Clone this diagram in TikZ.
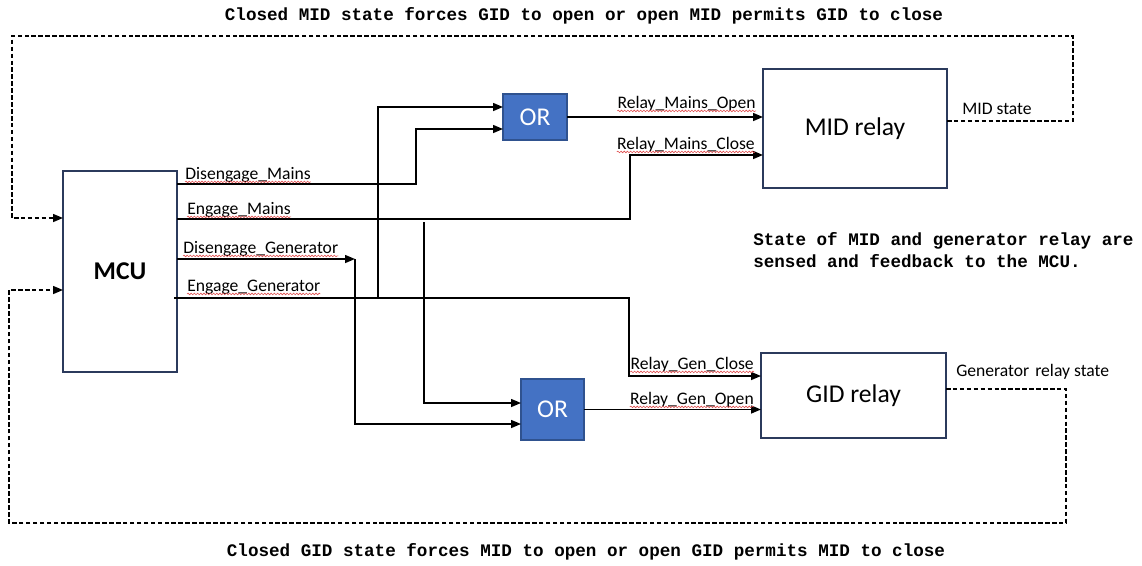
\documentclass[tikz,border=0pt]{standalone}
\usepackage{fontspec}
\setmainfont{Carlito}
\newfontfamily\monofont{Liberation Mono}
\usetikzlibrary{arrows.meta,decorations.pathmorphing}
\definecolor{boxline}{HTML}{2B3A5C}
\definecolor{orfill}{HTML}{4472C4}
\definecolor{orline}{HTML}{2F528F}
\definecolor{squig}{HTML}{E05050}
\tikzset{
  blockbox/.style={draw=boxline,line width=1.1pt,fill=white,inner sep=0pt,outer sep=0pt,font=\fontsize{19.2}{22}\selectfont},
  orgate/.style={draw=orline,line width=1.1pt,fill=orfill,text=white,inner sep=0pt,outer sep=0pt,font=\fontsize{19.2}{22}\selectfont},
  wire/.style={line width=1.1pt,black},
  arr/.style={wire,-{Triangle[length=7.5pt,width=6pt]}},
  fb/.style={arr,dash pattern=on 3.4pt off 1.8pt},
  lbl/.style={inner sep=0pt,font=\fontsize{13.2}{15}\selectfont},
  note/.style={inner sep=0pt,font=\monofont\bfseries\fontsize{13.2}{16.5}\selectfont},
  spell/.style={draw=squig,line width=0.45pt,decorate,decoration={snake,amplitude=0.6pt,segment length=2.4pt}}
}
\begin{document}
\begin{tikzpicture}[x=0.75pt,y=-0.75pt]
\useasboundingbox (0,0) rectangle (1142,565);

% blocks
\node[blockbox,minimum width=85.5pt,minimum height=150.75pt,font=\bfseries\fontsize{19.2}{22}\selectfont] (MCU) at (120,271.5) {MCU};
\node[blockbox,minimum width=138pt,minimum height=89.25pt] (MID) at (855,128.5) {MID relay};
\node[blockbox,minimum width=138.75pt,minimum height=63.75pt] (GID) at (853.5,395.5) {GID relay};
\node[orgate,minimum width=48pt,minimum height=34.5pt] (OR1) at (535,117) {OR};
\node[orgate,minimum width=47.25pt,minimum height=45.75pt] (OR2) at (552.5,409.5) {OR};

% MCU outputs
\draw[arr] (MCU.east |- 0,184) -- (416,184) -- (416,129) -- (OR1.west |- 0,129);
\draw[arr] (MCU.east |- 0,219) -- (630,219) -- (630,155) -- (MID.west |- 0,155);
\draw[arr] (MCU.east |- 0,259) -- (355,259);
\draw[arr] (355,259) -- (355,424) -- (OR2.west |- 0,424);
\draw[arr] (174,298) -- (629,298) -- (629,376) -- (GID.west |- 0,376);
\draw[arr] (378,298) -- (378,107) -- (OR1.west |- 0,107);
\draw[arr] (424,222) -- (424,403) -- (OR2.west |- 0,403);

% OR outputs
\draw[arr] (OR1.east) -- (MID.west |- OR1.east);
\draw[arr] (OR2.east) -- (GID.west |- OR2.east);

% feedback
\draw[fb] (MID.east |- 0,121) -- (1073,121) -- (1073,36) -- (12,36) -- (12,218) -- (MCU.west |- 0,218);
\draw[fb] (GID.east |- 0,389) -- (1066,389) -- (1066,523) -- (9,523) -- (9,290) -- (MCU.west |- 0,290);

% signal labels
\node[lbl,anchor=base west] (l1) at (185,179) {Disengage\_Mains};
\node[lbl,anchor=base west] (l2) at (187,214) {Engage\_Mains};
\node[lbl,anchor=base west] (l3) at (183,253) {Disengage\_Generator};
\node[lbl,anchor=base west] (l4) at (187,291) {Engage\_Generator};
\node[lbl,anchor=base east] (l5) at (756,108) {Relay\_Mains\_Open};
\node[lbl,anchor=base east] (l6) at (755,149) {Relay\_Mains\_Close};
\node[lbl,anchor=base east] (l7) at (754,369) {Relay\_Gen\_Close};
\node[lbl,anchor=base east] (l8) at (754,404) {Relay\_Gen\_Open};
\node[lbl,anchor=base west] (l9) at (962,114) {MID state};
\node[lbl,anchor=base west] (l10) at (956,376) {Generator\hspace{1.5pt} relay state};

\foreach \n in {l1,l2,l3,l4,l5,l6,l7,l8}{
  \draw[spell] ([yshift=-2.2pt]\n.base west) -- ([yshift=-2.2pt]\n.base east);
}

% notes
\node[note] (top) at (584,16) {Closed MID state forces GID to open or open MID permits GID to close};
\node[note] (bot) at (586,552) {Closed GID state forces MID to open or open GID permits MID to close};
\node[note,anchor=north west,align=left] (mid) at (753,232) {State of MID and generator relay are\\sensed and feedback to the MCU.};
\end{tikzpicture}
\end{document}
